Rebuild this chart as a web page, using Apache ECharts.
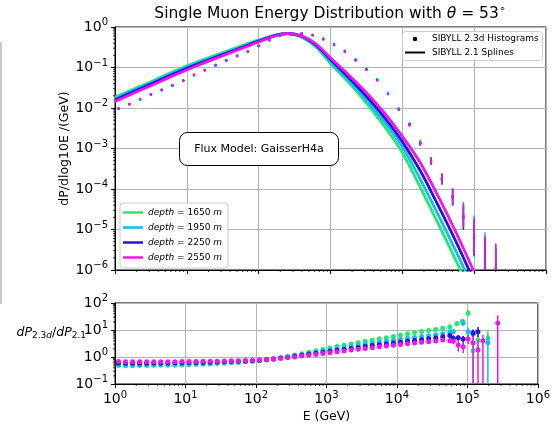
<!DOCTYPE html>
<html>
<head>
<meta charset="utf-8">
<title>Single Muon Energy Distribution</title>
<style>
  html, body { margin: 0; padding: 0; background: #fff; }
  #chart { width: 553px; height: 426px; }
</style>
<script src="https://cdn.jsdelivr.net/npm/echarts@6/dist/echarts.min.js"></script>
</head>
<body>
<div id="chart"></div>
<script>
var FONT = 'DejaVu Sans';

// depths and their colours
var depths = ['1650', '1950', '2250', '2550'];
var colors = ['#22e872', '#12bdf2', '#2414de', '#f014f0'];

// SIBYLL 2.1 splines, log10(E) -> log10(dP/dlog10E)
var splineLogE = [0, 0.25, 0.5, 0.75, 1, 1.25, 1.5, 1.75, 2, 2.25, 2.4, 2.6, 2.8, 3, 3.25, 3.5, 3.75, 4, 4.25, 4.5, 4.75, 5];
var spline1650 = [-1.73, -1.54, -1.35, -1.15, -0.96, -0.79, -0.63, -0.47, -0.32, -0.19, -0.16, -0.25, -0.50, -0.90, -1.36, -1.88, -2.45, -3.10, -3.96, -4.86, -5.78, -6.70];
var spline1950 = [-1.77, -1.57, -1.38, -1.18, -0.99, -0.82, -0.66, -0.50, -0.34, -0.20, -0.16, -0.24, -0.47, -0.85, -1.30, -1.80, -2.34, -2.96, -3.76, -4.64, -5.55, -6.50];
var spline2250 = [-1.80, -1.60, -1.41, -1.21, -1.02, -0.85, -0.68, -0.52, -0.35, -0.20, -0.16, -0.23, -0.45, -0.80, -1.24, -1.71, -2.23, -2.83, -3.55, -4.41, -5.31, -6.28];
var spline2550 = [-1.84, -1.64, -1.45, -1.25, -1.06, -0.88, -0.71, -0.54, -0.37, -0.21, -0.16, -0.22, -0.42, -0.76, -1.18, -1.62, -2.12, -2.70, -3.35, -4.18, -5.08, -6.05];

// SIBYLL 2.3d histograms (top panel), log10 values
var histLogE = [0.05, 0.2, 0.35, 0.5, 0.65, 0.8, 0.95, 1.1, 1.25, 1.4, 1.55, 1.7, 1.85, 2.0, 2.15, 2.3, 2.45, 2.6, 2.75, 2.9, 3.05, 3.2, 3.35, 3.5, 3.65, 3.8, 3.95, 4.1, 4.25, 4.4, 4.55, 4.7, 4.85, 5.0, 5.15, 5.3];
var hist1650 = [-2.03, -1.92, -1.80, -1.68, -1.57, -1.46, -1.34, -1.20, -1.08, -0.96, -0.84, -0.73, -0.62, -0.48, -0.34, -0.22, -0.16, -0.15, -0.19, -0.28, -0.41, -0.58, -0.79, -1.02, -1.28, -1.62, -2.00, -2.38, -2.84, -3.30, -3.76, -4.22, -4.72, -5.25, -5.80, -6.10];
var hist1950 = [-2.02, -1.91, -1.79, -1.67, -1.56, -1.45, -1.33, -1.19, -1.07, -0.95, -0.83, -0.72, -0.61, -0.47, -0.33, -0.21, -0.16, -0.15, -0.20, -0.29, -0.43, -0.60, -0.81, -1.04, -1.30, -1.64, -2.02, -2.40, -2.86, -3.30, -3.74, -4.18, -4.62, -5.10, -5.62, -5.95];
var hist2250 = [-2.01, -1.90, -1.78, -1.66, -1.55, -1.44, -1.32, -1.18, -1.06, -0.94, -0.82, -0.71, -0.60, -0.46, -0.32, -0.21, -0.16, -0.16, -0.20, -0.30, -0.44, -0.61, -0.82, -1.05, -1.31, -1.65, -2.04, -2.41, -2.87, -3.31, -3.76, -4.20, -4.70, -5.20, -5.75, -6.05];
var hist2550 = [-2.00, -1.90, -1.78, -1.66, -1.55, -1.44, -1.32, -1.18, -1.06, -0.94, -0.82, -0.71, -0.60, -0.46, -0.32, -0.21, -0.16, -0.16, -0.21, -0.31, -0.45, -0.62, -0.83, -1.06, -1.32, -1.66, -2.05, -2.42, -2.88, -3.32, -3.75, -4.18, -4.66, -5.15, -5.70, -5.95];
var histErr = [0, 0, 0, 0, 0, 0, 0, 0, 0, 0, 0, 0, 0, 0, 0, 0, 0, 0, 0, 0, 0, 0, 0, 0, 0, 0.01, 0.02, 0.04, 0.06, 0.09, 0.13, 0.2, 0.3, 0.45, 0.55, 0.6];

// ratio dP2.3d/dP2.1 (bottom panel), linear values
var ratioLogE = [0.05, 0.15, 0.25, 0.35, 0.45, 0.55, 0.65, 0.75, 0.85, 0.95, 1.05, 1.15, 1.25, 1.35, 1.45, 1.55, 1.65, 1.75, 1.85, 1.95, 2.05, 2.15, 2.25, 2.35, 2.45, 2.55, 2.65, 2.75, 2.85, 2.95, 3.05, 3.15, 3.25, 3.35, 3.45, 3.55, 3.65, 3.75, 3.85, 3.95, 4.05, 4.15, 4.25, 4.35, 4.45, 4.55, 4.65, 4.75];
var ratio1650 = [0.48, 0.47, 0.47, 0.48, 0.48, 0.49, 0.49, 0.50, 0.50, 0.51, 0.52, 0.53, 0.54, 0.55, 0.57, 0.59, 0.61, 0.63, 0.66, 0.69, 0.73, 0.78, 0.85, 0.94, 1.05, 1.18, 1.33, 1.50, 1.70, 1.90, 2.15, 2.45, 2.75, 3.05, 3.4, 3.8, 4.2, 4.7, 5.2, 5.8, 6.5, 7.2, 8.0, 8.8, 9.6, 10.5, 11.5, 13.0];
var ratio1950 = [0.53, 0.52, 0.52, 0.52, 0.53, 0.53, 0.54, 0.54, 0.55, 0.55, 0.56, 0.57, 0.58, 0.59, 0.61, 0.62, 0.64, 0.66, 0.68, 0.71, 0.74, 0.79, 0.85, 0.92, 1.01, 1.12, 1.24, 1.37, 1.51, 1.66, 1.84, 2.02, 2.22, 2.45, 2.70, 2.95, 3.25, 3.55, 3.85, 4.2, 4.55, 4.9, 5.3, 5.7, 6.1, 6.6, 7.2, 8.5];
var ratio2250 = [0.60, 0.59, 0.59, 0.59, 0.59, 0.60, 0.60, 0.60, 0.61, 0.61, 0.62, 0.62, 0.63, 0.64, 0.65, 0.66, 0.68, 0.69, 0.71, 0.73, 0.76, 0.80, 0.85, 0.91, 0.98, 1.06, 1.15, 1.26, 1.37, 1.49, 1.62, 1.76, 1.91, 2.07, 2.25, 2.45, 2.65, 2.85, 3.05, 3.3, 3.55, 3.8, 4.05, 4.35, 4.7, 5.1, 5.6, 6.2];
var ratio2550 = [0.68, 0.66, 0.66, 0.66, 0.66, 0.67, 0.67, 0.67, 0.67, 0.68, 0.68, 0.68, 0.69, 0.69, 0.70, 0.71, 0.72, 0.73, 0.74, 0.76, 0.78, 0.81, 0.85, 0.89, 0.95, 1.01, 1.08, 1.16, 1.25, 1.34, 1.44, 1.55, 1.67, 1.80, 1.94, 2.08, 2.22, 2.38, 2.55, 2.72, 2.9, 3.1, 3.3, 3.5, 3.7, 3.9, 4.3, 4.0];
var ratioErr = [0, 0, 0, 0, 0, 0, 0, 0, 0, 0, 0, 0, 0, 0, 0, 0, 0, 0, 0, 0, 0, 0, 0, 0, 0, 0, 0, 0, 0, 0, 0, 0, 0, 0, 0, 0.01, 0.01, 0.015, 0.02, 0.02, 0.025, 0.03, 0.035, 0.04, 0.05, 0.06, 0.07, 0.09];

// sparse high-energy ratio bins: [log10 E, ratio, low, high]
var tail1650 = [[4.85, 17, 14, 21], [4.93, 21, 17, 26], [5.01, 42, 32, 55], [5.08, 1.7, 0.05, 3.5], [5.15, 4.3, 2.2, 6.5], [5.29, 5, 2.8, 9.5]];
var tail1950 = [[4.80, 8.6, 7, 10.5], [4.94, 18, 14, 23], [5.01, 8.7, 5.5, 12.5], [5.08, 7, 4, 10], [5.29, 3.4, 0.05, 7]];
var tail2250 = [[4.80, 5, 4, 6.3], [4.87, 5.2, 4, 6.6], [4.94, 4.6, 3.2, 6], [5.08, 7.8, 5.5, 10.5], [5.15, 8.7, 5.5, 13]];
var tail2550 = [[4.80, 3.8, 3, 4.7], [4.87, 2.8, 1.6, 4.2], [4.94, 2.4, 1.4, 3.6], [5.01, 4.6, 3, 6.5], [5.08, 3.4, 0.05, 6], [5.15, 1.8, 0.05, 4], [5.22, 4.0, 0.05, 6.5], [5.43, 18, 0.05, 35]];

var splines = [spline1650, spline1950, spline2250, spline2550];
var hists = [hist1650, hist1950, hist2250, hist2550];
var ratios = [ratio1650, ratio1950, ratio2250, ratio2550];
var tails = [tail1650, tail1950, tail2250, tail2550];

var minorFactors = [2, 3, 4, 5, 6, 7, 8, 9];

function expText(v) {
  v = Math.round(v);
  return v < 0 ? '\u2212' + (-v) : '' + v;
}
function powLabel(v) {
  return '{b|10}{s|' + expText(v) + '}';
}
var tickRich = {
  b: { fontFamily: FONT, fontSize: 14, color: '#000' },
  s: { fontFamily: FONT, fontSize: 10, color: '#000', padding: [0, 0, 9, 0] }
};

// dot + vertical error bar
function dotRender(r, lw) {
  return function (params, api) {
    var c = api.coord([api.value(0), api.value(1)]);
    var lo = api.coord([api.value(0), api.value(2)]);
    var hi = api.coord([api.value(0), api.value(3)]);
    var col = api.visual('color');
    return {
      type: 'group',
      children: [
        { type: 'line', shape: { x1: c[0], y1: lo[1], x2: c[0], y2: hi[1] }, style: { stroke: col, lineWidth: lw } },
        { type: 'circle', shape: { cx: c[0], cy: c[1], r: r }, style: { fill: col } }
      ]
    };
  };
}

// minor ticks like matplotlib log axes
function minorData(xDecades, yDecades) {
  var out = [];
  xDecades.forEach(function (n) { minorFactors.forEach(function (k) { out.push([0, n + Math.log10(k)]); }); });
  yDecades.forEach(function (n) { minorFactors.forEach(function (k) { out.push([1, n + Math.log10(k)]); }); });
  return out;
}
function minorRender(xMin, yMin) {
  return function (params, api) {
    var kind = api.value(0), v = api.value(1), p;
    if (kind === 0) {
      p = api.coord([v, yMin]);
      return { type: 'line', shape: { x1: p[0], y1: p[1], x2: p[0], y2: p[1] + 2 }, style: { stroke: '#000', lineWidth: 0.8 } };
    }
    p = api.coord([xMin, v]);
    return { type: 'line', shape: { x1: p[0] - 2, y1: p[1], x2: p[0], y2: p[1] }, style: { stroke: '#000', lineWidth: 0.8 } };
  };
}

var series = [];
depths.forEach(function (d, i) {
  series.push({
    name: 'd' + d,
    type: 'line',
    xAxisIndex: 0, yAxisIndex: 0,
    data: splineLogE.map(function (x, j) { return [x, splines[i][j]]; }),
    symbol: 'none',
    smooth: 0.3,
    color: colors[i],
    lineStyle: { width: 2.8, color: colors[i] },
    z: 3
  });
  series.push({
    name: 'h' + d,
    type: 'custom',
    xAxisIndex: 0, yAxisIndex: 0,
    clip: true,
    renderItem: dotRender(1.2, 1.5),
    itemStyle: { color: colors[i] },
    encode: { x: 0, y: 1 },
    data: histLogE.map(function (x, j) {
      var y = hists[i][j];
      return [x, y, y - histErr[j], y + histErr[j]];
    }),
    z: 4
  });
});
depths.forEach(function (d, i) {
  var data = ratioLogE.map(function (x, j) {
    var y = Math.log10(ratios[i][j]);
    return [x, y, y - ratioErr[j], y + ratioErr[j]];
  });
  tails[i].forEach(function (t) {
    data.push([t[0], Math.log10(t[1]), Math.log10(t[2]), Math.log10(t[3])]);
  });
  series.push({
    name: 'r' + d,
    type: 'custom',
    xAxisIndex: 1, yAxisIndex: 1,
    clip: true,
    renderItem: dotRender(2.5, 1.5),
    itemStyle: { color: colors[i] },
    encode: { x: 0, y: 1 },
    data: data,
    z: 4
  });
});
series.push({
  type: 'custom', xAxisIndex: 0, yAxisIndex: 0, silent: true,
  renderItem: minorRender(0, -6), encode: { x: 1, y: 1 },
  data: minorData([0, 1, 2, 3, 4, 5], [-6, -5, -4, -3, -2, -1]), z: 5
});
series.push({
  type: 'custom', xAxisIndex: 1, yAxisIndex: 1, silent: true,
  renderItem: minorRender(0, -1), encode: { x: 1, y: 1 },
  data: minorData([0, 1, 2, 3, 4, 5], [-1, 0, 1]), z: 5
});

function axisCommon() {
  return {
    type: 'value',
    interval: 1,
    axisLine: { show: true, onZero: false, lineStyle: { color: '#000', width: 1 } },
    axisTick: { show: true, length: 4, inside: false, lineStyle: { color: '#000', width: 1 } },
    splitLine: { show: true, lineStyle: { color: '#b4b4b4', width: 1 } }
  };
}

var xTop = axisCommon();
Object.assign(xTop, { gridIndex: 0, min: 0, max: 6, axisLabel: { show: false } });
var xBot = axisCommon();
Object.assign(xBot, {
  gridIndex: 1, min: 0, max: 6,
  axisLabel: { formatter: powLabel, rich: tickRich, margin: 6 },
  name: 'E (GeV)', nameLocation: 'middle', nameGap: 26, nameMoveOverlap: false,
  nameTextStyle: { fontFamily: FONT, fontSize: 12.5, color: '#000' }
});
var yTop = axisCommon();
Object.assign(yTop, {
  gridIndex: 0, min: -6, max: 0,
  axisLabel: { formatter: powLabel, rich: tickRich, margin: 7 },
  name: 'dP/dlog10E /(GeV)', nameLocation: 'middle', nameGap: 44, nameRotate: 90, nameMoveOverlap: false,
  nameTextStyle: { fontFamily: FONT, fontSize: 12.5, color: '#000' }
});
var yBot = axisCommon();
Object.assign(yBot, {
  gridIndex: 1, min: -1, max: 2,
  axisLabel: { formatter: powLabel, rich: tickRich, margin: 7 }
});

var chart = echarts.init(document.getElementById('chart'));
chart.setOption({
  animation: false,
  backgroundColor: '#fff',
  textStyle: { fontFamily: FONT },
  grid: [
    { left: 115, top: 27, width: 431, height: 243, show: true, borderColor: '#000', borderWidth: 1 },
    { left: 115, top: 303, width: 431, height: 81, show: true, borderColor: '#000', borderWidth: 1 }
  ],
  xAxis: [xTop, xBot],
  yAxis: [yTop, yBot],
  legend: {
    data: depths.map(function (d) { return { name: 'd' + d, icon: 'rect' }; }),
    orient: 'vertical',
    left: 120, top: 203,
    itemWidth: 20, itemHeight: 2.5, itemGap: 4,
    padding: [4, 6, 5, 3],
    backgroundColor: 'rgba(255,255,255,0.85)',
    borderColor: '#cccccc', borderWidth: 1, borderRadius: 3,
    selectedMode: false,
    formatter: function (n) { return '{i|depth} = ' + n.slice(1) + ' {i|m}'; },
    textStyle: {
      fontFamily: FONT, fontSize: 9, color: '#000', lineHeight: 11,
      rich: { i: { fontFamily: FONT, fontSize: 9, fontStyle: 'italic', color: '#000', lineHeight: 11 } }
    },
    z: 20
  },
  graphic: [
    { type: 'rect', shape: { x: 0, y: 42, width: 2, height: 262 }, style: { fill: '#c8c8c8' } },
    {
      type: 'text', x: 330, y: 14,
      style: {
        text: 'Single Muon Energy Distribution with {i|\u03b8} = 53{s|\u2218}',
        align: 'center', verticalAlign: 'middle',
        fontFamily: FONT, fontSize: 15.5, fill: '#000',
        rich: {
          i: { fontFamily: FONT, fontSize: 15.5, fontStyle: 'italic', fill: '#000' },
          s: { fontFamily: FONT, fontSize: 11, fill: '#000', padding: [0, 0, 9, 0] }
        }
      }
    },
    { type: 'rect', z: 100, shape: { x: 402.5, y: 31.5, width: 140, height: 29, r: 3 }, style: { fill: 'rgba(255,255,255,0.85)', stroke: '#cccccc', lineWidth: 1 } },
    { type: 'circle', z: 101, shape: { cx: 415, cy: 39, r: 2.3 }, style: { fill: '#000' } },
    { type: 'text', z: 101, x: 432, y: 39, style: { text: 'SIBYLL 2.3d Histograms', verticalAlign: 'middle', fontFamily: FONT, fontSize: 9, fill: '#000' } },
    { type: 'line', z: 101, shape: { x1: 405, y1: 52.5, x2: 425, y2: 52.5 }, style: { stroke: '#000', lineWidth: 2 } },
    { type: 'text', z: 101, x: 432, y: 52.5, style: { text: 'SIBYLL 2.1 Splines', verticalAlign: 'middle', fontFamily: FONT, fontSize: 9, fill: '#000' } },
    { type: 'rect', z: 100, shape: { x: 179.5, y: 132.5, width: 159, height: 33, r: 8 }, style: { fill: '#fff', stroke: '#000', lineWidth: 1 } },
    { type: 'text', z: 101, x: 259, y: 149, style: { text: 'Flux Model: GaisserH4a', align: 'center', verticalAlign: 'middle', fontFamily: FONT, fontSize: 11, fill: '#000' } },
    {
      type: 'text', x: 86, y: 333,
      style: {
        text: '{i|dP}{sb|2.3}{sbi|d}{r|/}{i|dP}{sb|2.1}',
        align: 'right', verticalAlign: 'middle',
        rich: {
          i: { fontFamily: FONT, fontSize: 12.5, fontStyle: 'italic', fill: '#000' },
          r: { fontFamily: FONT, fontSize: 12.5, fill: '#000' },
          sb: { fontFamily: FONT, fontSize: 9, fill: '#000', padding: [6, 0, 0, 0] },
          sbi: { fontFamily: FONT, fontSize: 9, fontStyle: 'italic', fill: '#000', padding: [6, 0, 0, 0] }
        }
      }
    }
  ],
  series: series
});
</script>
</body>
</html>
